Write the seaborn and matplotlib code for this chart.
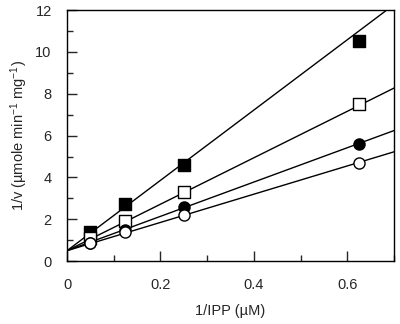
import numpy as np
import pandas as pd
import seaborn as sns
import matplotlib.pyplot as plt
from matplotlib.ticker import MultipleLocator

# 1/[IPP] values (uM^-1)
inv_ipp = [0.05, 0.125, 0.25, 0.625]

# 1/v measured at four inhibitor levels
filled_sq = [1.4, 2.75, 4.6, 10.5]
open_sq = [1.1, 1.9, 3.3, 7.5]
filled_ci = [0.85, 1.5, 2.6, 5.6]
open_ci = [0.85, 1.4, 2.2, 4.7]

# fitted lines (slope, intercept)
slopes = [16.8, 11.1, 8.2, 6.75]
intercepts = [0.5, 0.5, 0.5, 0.5]
line_x = [0.0, 0.7]

sns.set_style("ticks")
plt.rcParams['font.family'] = ['Liberation Sans', 'DejaVu Sans']
plt.rcParams['mathtext.fontset'] = 'custom'
plt.rcParams['mathtext.rm'] = 'Liberation Sans'
plt.rcParams['mathtext.it'] = 'Liberation Sans'

fig = plt.figure(figsize=(4.0, 3.24), dpi=100)
ax = fig.add_axes([0.1675, 0.194, 0.8175, 0.775])

# fit lines
for s, b in zip(slopes, intercepts):
    fit = pd.DataFrame({"x": line_x, "y": [b + s * xv for xv in line_x]})
    sns.lineplot(data=fit, x="x", y="y", color="black", lw=1.0, ax=ax, zorder=2)

series = [
    (filled_sq, "s", "black", 8),
    (open_sq, "s", "white", 8),
    (filled_ci, "o", "black", 8),
    (open_ci, "o", "white", 8),
]
for vals, mk, fc, ms in series:
    d = pd.DataFrame({"x": inv_ipp, "y": vals})
    sns.scatterplot(data=d, x="x", y="y", marker=mk, s=ms ** 2, color=fc,
                    edgecolor="black", linewidth=1.0, ax=ax, zorder=3)

ax.set_xlim(0, 0.7)
ax.set_ylim(0, 12)
ax.xaxis.set_major_locator(MultipleLocator(0.2))
ax.xaxis.set_minor_locator(MultipleLocator(0.1))
ax.yaxis.set_major_locator(MultipleLocator(2))
ax.yaxis.set_minor_locator(MultipleLocator(1))
ax.set_xticklabels(["0" if t == 0 else f"{t:.1f}" for t in ax.get_xticks()])
ax.tick_params(which="major", direction="in", length=7, width=1, labelsize=10.5)
ax.tick_params(axis="x", which="major", pad=12)
ax.tick_params(axis="y", which="major", pad=11)
ax.tick_params(which="minor", direction="in", length=4.5, width=1)
ax.tick_params(top=False, right=False)
for sp in ax.spines.values():
    sp.set_linewidth(1.0)
    sp.set_color("black")

ax.set_xlabel("1/IPP (µM)", fontsize=10.5, labelpad=9)
ax.set_ylabel(r"1/v (µmole min$^{-1}$ mg$^{-1}$)", fontsize=10.5, labelpad=4)

fig.savefig("out.png", dpi=100)
